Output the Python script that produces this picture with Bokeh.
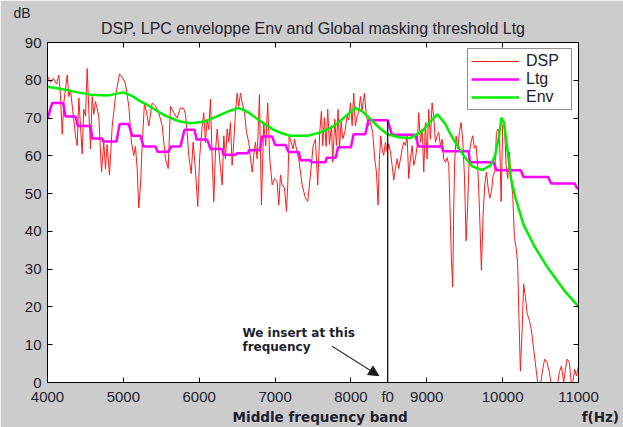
from bokeh.plotting import figure
from bokeh.models import Range1d, LinearAxis, FixedTicker, Label, Arrow, NormalHead, Legend, LegendItem, Title
from bokeh.embed import file_html
from bokeh.resources import INLINE

# ---------------- data ----------------
dsp_f = [4000, 4040, 4079, 4119, 4149, 4171, 4194, 4215, 4260, 4281, 4303, 4369, 4391, 4413, 4435,
         4457, 4478, 4501, 4523, 4544, 4567, 4589, 4610, 4633, 4676, 4712, 4742, 4764, 4786, 4817,
         4853, 4896, 4949, 5006, 5028, 5072, 5107, 5137, 5160, 5182, 5203, 5226, 5248, 5278, 5305,
         5335, 5380, 5423, 5467, 5512, 5555, 5591, 5621, 5665, 5709, 5753, 5796, 5819, 5841, 5862,
         5894, 5920, 5951, 5981, 6007, 6039, 6060, 6082, 6105, 6126, 6148, 6171, 6192, 6214, 6237,
         6258, 6280, 6303, 6324, 6346, 6369, 6390, 6412, 6434, 6455, 6478, 6500, 6521, 6544, 6566,
         6596, 6623, 6653, 6676, 6699, 6719, 6741, 6764, 6794, 6820, 6851, 6877, 6903, 6930, 6962,
         6992, 7027, 7049, 7071, 7093, 7124, 7150, 7167, 7186, 7212, 7238, 7256, 7282, 7312, 7357,
         7400, 7431, 7466, 7502, 7532, 7562, 7589, 7611, 7628, 7651, 7673, 7694, 7717, 7743, 7760,
         7787, 7809, 7831, 7849, 7871, 7892, 7919, 7950, 7971, 7994, 8016, 8037, 8059, 8082, 8103,
         8125, 8147, 8178, 8200, 8227, 8257, 8287, 8314, 8336, 8358, 8375, 8393, 8411, 8432, 8455,
         8477, 8498, 8521, 8543, 8564, 8587, 8609, 8630, 8653, 8675, 8696, 8718, 8741, 8762, 8784,
         8807, 8828, 8850, 8873, 8894, 8916, 8939, 8960, 8982, 9004, 9025, 9048, 9070, 9091, 9114,
         9136, 9157, 9180, 9203, 9223, 9246, 9269, 9290, 9312, 9325, 9342, 9356, 9368, 9387, 9408,
         9430, 9452, 9473, 9496, 9518, 9539, 9562, 9584, 9605, 9628, 9650, 9671, 9694, 9720, 9742,
         9764, 9786, 9809, 9830, 9852, 9875, 9896, 9918, 9940, 9961, 9980, 10000, 10023, 10045, 10067,
         10089, 10112, 10133, 10155, 10178, 10198, 10211, 10234, 10257, 10277, 10300, 10322, 10352, 10379, 10409,
         10441, 10467, 10497, 10528, 10554, 10586, 10616, 10643, 10673, 10718, 10748, 10775, 10805, 10827, 10850,
         10880, 10906, 10929, 10950, 10972, 11000]
dsp_db = [81.0, 79.5, 80.5, 79.0, 81.4, 76.0, 65.7, 74.0, 81.4, 75.7, 77.5, 65.3, 62.7, 75.3, 67.9,
          60.5, 72.3, 70.5, 83.1, 72.3, 61.8, 75.7, 71.0, 74.4, 70.5, 55.7, 63.6, 56.6, 63.0, 54.9,
          67.9, 75.7, 81.7, 80.1, 79.0, 73.1, 63.6, 60.1, 62.5, 56.6, 46.2, 52.3, 62.7, 74.0, 71.5,
          67.9, 74.0, 73.2, 71.4, 67.9, 59.2, 56.6, 73.1, 71.4, 70.0, 72.7, 72.5, 71.0, 66.2, 60.1,
          55.3, 63.6, 56.0, 46.6, 60.0, 67.9, 71.4, 63.5, 69.7, 67.0, 75.0, 59.2, 47.9, 61.0, 67.1,
          61.8, 56.6, 52.3, 65.3, 59.2, 67.1, 63.6, 68.8, 57.5, 63.6, 71.4, 76.6, 73.1, 76.6, 74.0,
          71.8, 66.2, 63.6, 59.2, 55.7, 60.1, 63.6, 59.2, 76.2, 47.0, 68.8, 62.7, 74.0, 59.2, 52.3,
          54.0, 53.1, 47.0, 54.9, 52.3, 51.5, 45.3, 52.3, 65.3, 63.6, 61.8, 64.4, 61.8, 59.2, 52.3,
          48.8, 47.9, 54.9, 62.7, 64.4, 52.3, 66.2, 71.8, 62.7, 70.1, 62.5, 72.3, 63.0, 68.0, 58.3,
          69.7, 62.7, 72.3, 62.0, 69.0, 64.5, 66.2, 70.5, 69.5, 74.0, 68.0, 76.6, 67.9, 70.5, 71.5,
          75.7, 72.0, 76.6, 71.5, 68.0, 68.8, 66.2, 59.2, 55.7, 47.0, 59.0, 65.3, 61.8, 60.1, 63.6,
          61.0, 63.2, 61.0, 57.5, 53.6, 56.6, 59.2, 56.6, 59.2, 61.8, 63.6, 62.7, 65.3, 54.0, 59.2,
          62.7, 57.5, 59.2, 62.7, 71.4, 63.6, 67.1, 55.7, 68.8, 59.2, 72.3, 64.4, 74.0, 70.5, 63.6,
          65.3, 66.2, 62.7, 64.4, 59.2, 58.3, 59.5, 57.5, 41.8, 32.3, 25.3, 47.0, 58.5, 65.3, 61.8,
          66.2, 68.8, 64.5, 55.0, 37.5, 47.0, 61.0, 63.6, 65.3, 62.0, 62.7, 57.5, 46.2, 29.7, 44.2,
          52.3, 55.7, 51.5, 48.8, 50.5, 54.9, 55.7, 66.2, 67.1, 63.6, 47.9, 68.0, 69.2, 57.5, 54.0,
          61.0, 53.2, 49.8, 38.4, 35.7, 31.4, 20.1, 3.0, 14.0, 26.0, 22.7, 18.3, 16.5, 13.9, 8.8,
          3.5, -1.0, -1.0, 3.5, 6.2, 5.3, 2.7, -1.0, -2.0, -1.0, 2.7, 4.4, 0.0, 3.5, 6.2,
          5.3, -0.5, 0.5, 3.5, 1.7, 4.4]

ltg_f = [4000, 4062, 4207, 4237, 4370, 4400, 4567, 4590, 4720, 4735, 4910, 4950, 5070, 5117, 5226,
         5265, 5423, 5450, 5600, 5625, 5753, 5806, 5938, 5965, 6105, 6150, 6303, 6320, 6480, 6500,
         6640, 6660, 6800, 6830, 6962, 7000, 7137, 7177, 7313, 7335, 7467, 7480, 7665, 7680, 7800,
         7830, 8000, 8035, 8190, 8230, 8485, 8540, 8850, 8890, 9200, 9215, 9550, 9570, 9880, 9920,
         10240, 10275, 10600, 10640, 10950, 10980, 11000]
ltg_db = [69.8, 74.0, 74.0, 70.4, 70.4, 67.9, 67.9, 64.6, 64.6, 63.8, 63.8, 68.4, 68.4, 65.3, 65.3,
          62.5, 62.5, 61.1, 61.1, 62.5, 62.5, 66.9, 66.9, 64.3, 64.3, 61.8, 61.8, 60.3, 60.3, 60.7,
          60.7, 61.5, 61.5, 65.1, 65.1, 62.9, 62.9, 61.0, 61.0, 58.8, 58.8, 58.3, 58.3, 59.5, 59.5,
          62.3, 62.3, 65.7, 65.7, 69.4, 69.4, 65.6, 65.6, 62.5, 62.5, 61.2, 61.2, 58.3, 58.3, 56.2,
          56.2, 54.4, 54.4, 52.7, 52.7, 51.4, 51.4]

env_f = [4000, 4200, 4400, 4567, 4800, 5000, 5120, 5226, 5340, 5450, 5560, 5660, 5770, 5885, 6057,
         6240, 6400, 6518, 6640, 6770, 6880, 6980, 7100, 7200, 7430, 7600, 7770, 7920, 8060, 8160,
         8258, 8370, 8480, 8630, 8785, 8943, 9050, 9140, 9246, 9310, 9400, 9485, 9600, 9730, 9840,
         9900, 9950, 9985, 10020, 10060, 10110, 10170, 10275, 10420, 10590, 10810, 11000]
env_db = [78.3, 77.6, 76.8, 76.2, 76.0, 76.8, 75.8, 74.4, 73.2, 71.8, 70.6, 69.7, 69.0, 68.6, 69.0,
          70.5, 71.9, 72.7, 71.6, 69.7, 68.2, 66.9, 65.9, 65.3, 65.3, 66.2, 67.8, 70.3, 72.7, 71.6,
          69.7, 67.5, 65.7, 64.9, 64.7, 66.6, 69.2, 71.0, 68.4, 65.8, 62.8, 60.1, 57.2, 56.2, 57.5,
          60.0, 65.0, 70.1, 68.5, 62.0, 54.0, 48.8, 41.8, 36.0, 30.5, 24.4, 20.1]

x_ticks = [4000, 5000, 6000, 7000, 8000, 9000, 10000, 11000]
y_ticks = [0, 10, 20, 30, 40, 50, 60, 70, 80, 90]
f0 = 8485
f0_level = 69.4
title_text = "DSP, LPC enveloppe Env and Global masking threshold Ltg"
xlabel_text = "Middle frequency band"
xunit_text = "f(Hz)"
ylabel_text = "dB"

TXT = "Liberation Sans"
BOLD = "DejaVu Sans"
INK = "#1e1e2e"
GRAY = "#cccccc"
NB = "\u00a0"

p = figure(width=623, height=427, x_range=Range1d(4000, 11000), y_range=Range1d(0, 90),
           output_backend="svg", toolbar_location=None,
           min_border_left=47, min_border_right=45, min_border_top=42, min_border_bottom=40)
p.background_fill_color = "white"
p.border_fill_color = GRAY
p.outline_line_color = "black"
p.outline_line_width = 1
p.grid.visible = False

p.xaxis.ticker = FixedTicker(ticks=x_ticks + [f0])
p.xaxis.major_label_overrides = {f0: "f0"}
p.yaxis.ticker = FixedTicker(ticks=y_ticks)

for ax in list(p.xaxis) + list(p.yaxis):
    ax.major_tick_in = 5
    ax.major_tick_out = 0
    ax.minor_tick_line_color = None
    ax.axis_line_color = "black"
    ax.major_tick_line_color = "black"
    ax.major_label_text_font = TXT
    ax.major_label_text_font_size = "15px"
    ax.major_label_text_color = INK
p.yaxis.major_label_standoff = 6
p.xaxis.major_label_standoff = 5

# x label and unit share one row under the tick labels
p.xaxis.axis_label = NB * 48 + xlabel_text + NB * 37 + xunit_text
p.xaxis.axis_label_text_font = BOLD
p.xaxis.axis_label_text_font_size = "13.5px"
p.xaxis.axis_label_text_font_style = "bold"
p.xaxis.axis_label_text_color = INK
p.xaxis.axis_label_standoff = 1

top = LinearAxis(ticker=FixedTicker(ticks=x_ticks), major_tick_in=5, major_tick_out=0,
                 minor_tick_line_color=None, major_label_standoff=0,
                 major_label_text_font_size="1px",
                 major_label_overrides={t: "" for t in x_ticks})
right = LinearAxis(ticker=FixedTicker(ticks=y_ticks), major_tick_in=5, major_tick_out=0,
                   minor_tick_line_color=None, major_label_standoff=0,
                   major_label_text_font_size="1px",
                   major_label_overrides={t: "" for t in y_ticks})
p.add_layout(top, "above")
p.add_layout(right, "right")

p.add_layout(Title(text=title_text, align="center", offset=-7, standoff=11,
                   text_font=TXT, text_font_size="16px", text_font_style="normal",
                   text_color=INK), "above")
p.add_layout(Title(text=ylabel_text, align="left", offset=-34, standoff=-16,
                   text_font=TXT, text_font_size="14px", text_font_style="normal",
                   text_color=INK), "above")

r_dsp = p.line(dsp_f, dsp_db, line_color="#ff1a1a", line_width=1.0)
r_ltg = p.line(ltg_f, ltg_db, line_color="#ff00ff", line_width=2.5)
r_env = p.line(env_f, env_db, line_color="#00ee00", line_width=2.5)

p.segment(x0=[f0], y0=[0], x1=[f0], y1=[f0_level], line_color="black", line_width=1.2)

p.add_layout(Arrow(end=NormalHead(size=10, fill_color="#1a1a1a", line_color="#1a1a1a"),
                   x_start=7752, y_start=9.6, x_end=8367, y_end=1.8,
                   line_color="#333333", line_width=1.2))

legend = Legend(items=[LegendItem(label="DSP", renderers=[r_dsp]),
                       LegendItem(label="Ltg", renderers=[r_ltg]),
                       LegendItem(label="Env", renderers=[r_env])],
                location=(420, 272), border_line_color="#222222", border_line_width=1,
                background_fill_color="white", background_fill_alpha=1,
                label_text_font=TXT, label_text_font_size="16px", label_text_color=INK,
                glyph_width=48, glyph_height=18, label_height=18, label_width=42,
                spacing=0, padding=3, margin=0, label_standoff=7)
p.add_layout(legend)

for yy, txt in [(13.0, "We insert at this"), (9.4, "frequency")]:
    p.add_layout(Label(x=6570, y=yy, text=txt, text_font=BOLD, text_font_size="12px",
                       text_font_style="bold", text_align="left", text_baseline="middle",
                       text_color=INK))

open("out.html", "w").write(file_html(p, INLINE))
